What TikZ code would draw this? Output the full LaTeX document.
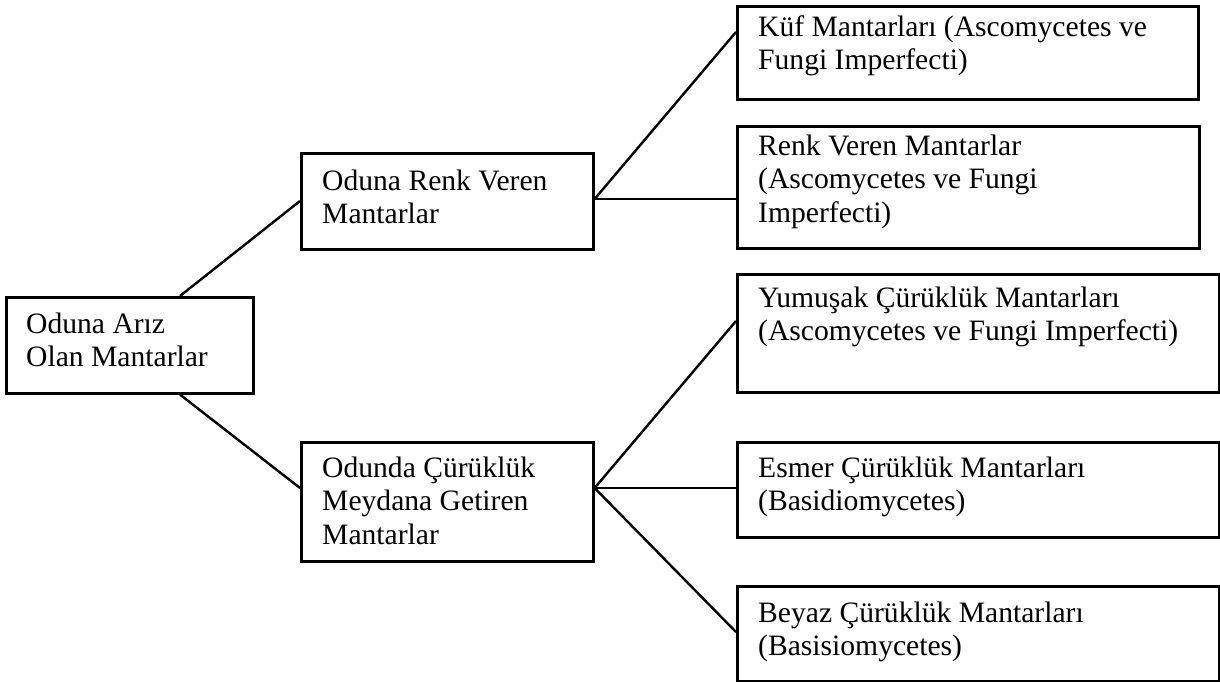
\documentclass[tikz,border=0pt]{standalone}
\usepackage{fontspec}
\setmainfont{Liberation Serif}
\begin{document}
\begin{tikzpicture}[x=1pt,y=-1pt,
  box/.style={draw, line width=2.6pt, inner sep=0pt, anchor=north west},
  txt/.style={inner sep=0pt, anchor=north west, align=left, font=\fontsize{29.6}{33.8}\selectfont},
  link/.style={line width=2.4pt}]
\useasboundingbox (0,0) rectangle (1220,682);
% boxes
\node[box, minimum width=247pt, minimum height=96pt] (root) at (5,296) {};
\node[box, minimum width=292pt, minimum height=96pt] (renk) at (300,152) {};
\node[box, minimum width=292pt, minimum height=119pt] (odunda) at (300,441) {};
\node[box, minimum width=461pt, minimum height=93pt] (kuf) at (736,5) {};
\node[box, minimum width=462pt, minimum height=122pt] (renkv) at (736,125) {};
\node[box, minimum width=482pt, minimum height=118pt] (yumusak) at (736,273) {};
\node[box, minimum width=482pt, minimum height=95pt] (esmer) at (736,441) {};
\node[box, minimum width=482pt, minimum height=95pt] (beyaz) at (736,585) {};
% texts
\node[txt] (root-t) at (26,309.3) {\strut Oduna Arız\\Olan Mantarlar};
\node[txt] (renk-t) at (322,166.3) {\strut Oduna Renk Veren\\Mantarlar};
\node[txt] (odunda-t) at (322,453.3) {\strut Odunda Çürüklük\\Meydana Getiren\\Mantarlar};
\node[txt] (kuf-t) at (758,12.3) {\strut Küf Mantarları (Ascomycetes ve\\Fungi Imperfecti)};
\node[txt] (renkv-t) at (758,131.3) {\strut Renk Veren Mantarlar\\(Ascomycetes ve Fungi\\Imperfecti)};
\node[txt] (yumusak-t) at (758,283.3) {\strut Yumuşak Çürüklük Mantarları\\(Ascomycetes ve Fungi Imperfecti)};
\node[txt] (esmer-t) at (758,453.3) {\strut Esmer Çürüklük Mantarları\\(Basidiomycetes)};
\node[txt] (beyaz-t) at (758,598.3) {\strut Beyaz Çürüklük Mantarları\\(Basisiomycetes)};
% connectors
\draw[link] ([xshift=175pt]root.north west) -- ([yshift=-49pt]renk.north west);
\draw[link] ([xshift=175pt]root.south west) -- ([yshift=-47pt]odunda.north west);
\draw[link] ([yshift=-47pt]renk.north east) -- ([yshift=-27pt]kuf.north west);
\draw[link] ([yshift=-47pt]renk.north east) -- ([yshift=-74pt]renkv.north west);
\draw[link] ([yshift=-47pt]odunda.north east) -- ([yshift=-48pt]yumusak.north west);
\draw[link] ([yshift=-47pt]odunda.north east) -- ([yshift=-47pt]esmer.north west);
\draw[link] ([yshift=-47pt]odunda.north east) -- ([yshift=-47pt]beyaz.north west);
\end{tikzpicture}
\end{document}
